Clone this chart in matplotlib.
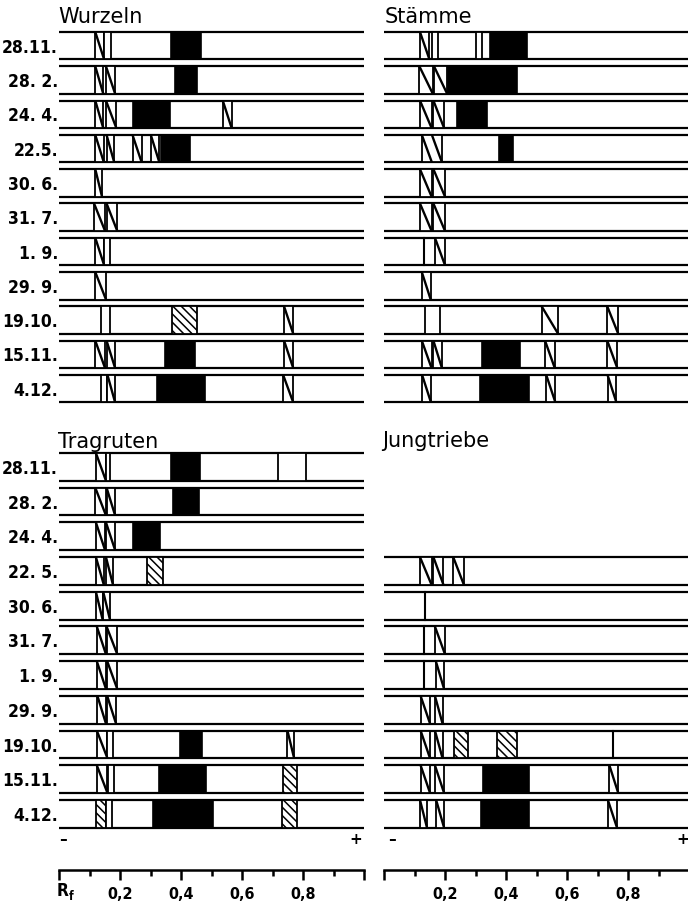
import matplotlib
matplotlib.use('Agg')
import matplotlib.pyplot as plt
from matplotlib.patches import Rectangle
from matplotlib import font_manager as fm
from matplotlib.ticker import FixedLocator, FixedFormatter

# ---------------- data ----------------
dates_top = ["28.11.", "28. 2.", "24. 4.", "22.5.", "30. 6.", "31. 7.",
             "1. 9.", "29. 9.", "19.10.", "15.11.", "4.12."]
dates_bottom = ["28.11.", "28. 2.", "24. 4.", "22. 5.", "30. 6.", "31. 7.",
                "1. 9.", "29. 9.", "19.10.", "15.11.", "4.12."]

titles = ["Wurzeln", "Stämme", "Tragruten", "Jungtriebe"]

# band = (Rf start, Rf end, kind)  kind: h = hatched, d = dense hatched,
# b = black, o = open, l = single line
wurzeln = [
    [(0.118, 0.147, 'h'), (0.147, 0.170, 'o'), (0.365, 0.465, 'b')],
    [(0.118, 0.144, 'h'), (0.153, 0.183, 'h'), (0.380, 0.450, 'b')],
    [(0.118, 0.144, 'h'), (0.153, 0.187, 'h'), (0.243, 0.363, 'b'), (0.536, 0.565, 'h')],
    [(0.118, 0.146, 'h'), (0.155, 0.180, 'h'), (0.240, 0.270, 'h'), (0.300, 0.328, 'h'),
     (0.333, 0.428, 'b')],
    [(0.118, 0.140, 'h')],
    [(0.114, 0.150, 'h'), (0.155, 0.190, 'h')],
    [(0.118, 0.147, 'h'), (0.147, 0.165, 'o')],
    [(0.118, 0.153, 'h')],
    [(0.136, 0.166, 'o'), (0.368, 0.450, 'd'), (0.737, 0.767, 'h')],
    [(0.118, 0.150, 'h'), (0.155, 0.183, 'h'), (0.347, 0.445, 'b'), (0.737, 0.767, 'h')],
    [(0.137, 0.158, 'o'), (0.158, 0.183, 'h'), (0.320, 0.478, 'b'), (0.734, 0.767, 'h')],
]

staemme = [
    [(0.118, 0.149, 'h'), (0.156, 0.178, 'o'), (0.302, 0.320, 'o'), (0.348, 0.468, 'b')],
    [(0.116, 0.160, 'h'), (0.164, 0.207, 'h'), (0.211, 0.435, 'b')],
    [(0.118, 0.156, 'h'), (0.162, 0.197, 'h'), (0.240, 0.337, 'b')],
    [(0.124, 0.190, 'h'), (0.378, 0.424, 'b')],
    [(0.118, 0.156, 'h'), (0.162, 0.200, 'h')],
    [(0.118, 0.156, 'h'), (0.162, 0.200, 'h')],
    [(0.132, 0.132, 'l'), (0.167, 0.200, 'h')],
    [(0.124, 0.153, 'h')],
    [(0.134, 0.183, 'o'), (0.517, 0.571, 'h'), (0.732, 0.768, 'h')],
    [(0.124, 0.156, 'h'), (0.162, 0.190, 'h'), (0.320, 0.446, 'b'), (0.528, 0.560, 'h'),
     (0.732, 0.765, 'h')],
    [(0.125, 0.154, 'h'), (0.316, 0.475, 'b'), (0.532, 0.562, 'h'), (0.733, 0.762, 'h')],
]

tragruten = [
    [(0.120, 0.153, 'h'), (0.153, 0.166, 'o'), (0.365, 0.461, 'b'), (0.718, 0.809, 'o')],
    [(0.118, 0.153, 'h'), (0.155, 0.183, 'h'), (0.372, 0.459, 'b')],
    [(0.120, 0.150, 'h'), (0.153, 0.183, 'h'), (0.243, 0.330, 'b')],
    [(0.120, 0.146, 'h'), (0.153, 0.176, 'h'), (0.289, 0.339, 'd')],
    [(0.120, 0.142, 'h'), (0.144, 0.166, 'h')],
    [(0.123, 0.153, 'h'), (0.155, 0.190, 'h')],
    [(0.123, 0.153, 'h'), (0.157, 0.190, 'h')],
    [(0.125, 0.153, 'h'), (0.157, 0.186, 'h')],
    [(0.123, 0.158, 'h'), (0.158, 0.177, 'o'), (0.396, 0.467, 'b'), (0.748, 0.770, 'h')],
    [(0.123, 0.158, 'h'), (0.161, 0.180, 'o'), (0.328, 0.481, 'b'), (0.735, 0.780, 'd')],
    [(0.120, 0.153, 'd'), (0.153, 0.172, 'o'), (0.306, 0.505, 'b'), (0.729, 0.778, 'd')],
]

jungtriebe = [
    None, None, None,
    [(0.118, 0.156, 'h'), (0.162, 0.195, 'h'), (0.227, 0.262, 'h')],
    [(0.134, 0.134, 'l')],
    [(0.131, 0.131, 'l'), (0.167, 0.200, 'h')],
    [(0.131, 0.131, 'l'), (0.170, 0.197, 'h')],
    [(0.120, 0.151, 'h'), (0.167, 0.192, 'h')],
    [(0.120, 0.151, 'h'), (0.167, 0.192, 'h'), (0.230, 0.276, 'd'), (0.369, 0.435, 'd'),
     (0.752, 0.752, 'l')],
    [(0.120, 0.151, 'h'), (0.167, 0.197, 'h'), (0.324, 0.477, 'b'), (0.739, 0.768, 'h')],
    [(0.118, 0.141, 'h'), (0.171, 0.197, 'h'), (0.318, 0.475, 'b'), (0.734, 0.764, 'h')],
]

major_ticks = [0.0, 0.2, 0.4, 0.6, 0.8, 1.0]
major_labels = ["", "0,2", "0,4", "0,6", "0,8", ""]
minor_ticks = [0.1, 0.3, 0.5, 0.7, 0.9]

# ---------------- fonts ----------------
_names = {f.name for f in fm.fontManager.ttflist}
_cond = any(f.name == 'DejaVu Sans' and str(f.stretch) == 'condensed'
            for f in fm.fontManager.ttflist)
if 'Liberation Sans Narrow' in _names:
    NFONT = dict(family='Liberation Sans Narrow')
    DATE_FS, TICK_FS = 15, 13.5
elif _cond:
    NFONT = dict(family='DejaVu Sans', stretch='condensed')
    DATE_FS, TICK_FS = 12.5, 11.5
else:
    NFONT = dict(family='DejaVu Sans')
    DATE_FS, TICK_FS = 11.5, 10.5
TFONT = dict(family='DejaVu Sans')

# ---------------- figure ----------------
W, H = 688, 905
fig = plt.figure(figsize=(W / 100, H / 100), dpi=100)
plt.rcParams['hatch.linewidth'] = 1.1


def fx(px):
    return px / W


def fy(py):
    return 1 - py / H


HALF = 0.4
SCALE_W = 305.0
LW_STRIP = 1.6


def make_panel(left_px, first_top, pitch, bands, dates):
    top = first_top - (0.5 - HALF) * pitch
    height = 11 * pitch
    ax = fig.add_axes([fx(left_px), fy(top + height), SCALE_W / W, height / H])
    ax.set_xlim(0, 1)
    ax.set_ylim(10.5, -0.5)
    ax.axis('off')
    for i, row in enumerate(bands):
        if row is None:
            continue
        for yy in (i - HALF, i + HALF):
            ax.plot([0, 1], [yy, yy], color='k', lw=LW_STRIP,
                    solid_capstyle='butt', zorder=1, clip_on=False)
        y0 = i - HALF
        h = 2 * HALF
        for x0, x1, kind in row:
            if kind == 'l':
                ax.plot([x0, x0], [y0, y0 + h], color='k', lw=1.5, zorder=3)
            elif kind == 'b':
                ax.add_patch(Rectangle((x0, y0), x1 - x0, h, fc='k', ec='k',
                                       lw=1.2, zorder=2))
            elif kind == 'o':
                ax.add_patch(Rectangle((x0, y0), x1 - x0, h, fc='white', ec='k',
                                       lw=1.3, zorder=2))
            elif kind == 'd':
                ax.add_patch(Rectangle((x0, y0), x1 - x0, h, fc='white', ec='k',
                                       lw=1.3, hatch='\\\\\\\\', zorder=2))
            else:
                ax.add_patch(Rectangle((x0, y0), x1 - x0, h, fc='white', ec='k',
                                       lw=1.3, zorder=2))
                wpx = (x1 - x0) * SCALE_W
                k = max(1, int(round(wpx / 11.0)))
                step = (x1 - x0) / k
                for j in range(k):
                    ax.plot([x0 + j * step, x0 + (j + 1) * step], [y0, y0 + h],
                            color='k', lw=1.7, zorder=3, solid_capstyle='butt')
        if dates is not None:
            ax.text(-0.004, i + 0.06, dates[i], ha='right', va='center',
                    fontsize=DATE_FS, fontweight='bold', **NFONT)
    return ax


LEFT_X, RIGHT_X = 59.3, 384.0
make_panel(LEFT_X, 32, 34.3, wurzeln, dates_top)
make_panel(RIGHT_X, 32, 34.3, staemme, None)
make_panel(LEFT_X, 453, 34.7, tragruten, dates_bottom)
make_panel(RIGHT_X, 453, 34.7, jungtriebe, None)

# titles
fig.text(fx(58), fy(23), titles[0], ha='left', va='baseline', fontsize=15, **TFONT)
fig.text(fx(385), fy(23), titles[1], ha='left', va='baseline', fontsize=15, **TFONT)
fig.text(fx(58), fy(448), titles[2], ha='left', va='baseline', fontsize=15, **TFONT)
fig.text(fx(382), fy(447), titles[3], ha='left', va='baseline', fontsize=15, **TFONT)

# - / + markers
for xp, s in ((63, '\u2013'), (356, '+'), (392, '\u2013'), (683, '+')):
    fig.text(fx(xp), fy(839), s, ha='center', va='center', fontsize=11,
             fontweight='bold', family='DejaVu Sans')

# Rf scales
for left_px in (LEFT_X, RIGHT_X):
    sax = fig.add_axes([fx(left_px), fy(870), SCALE_W / W, 0.0001])
    sax.set_xlim(0, 1)
    sax.patch.set_visible(False)
    for s in ('top', 'left', 'right'):
        sax.spines[s].set_visible(False)
    sax.spines['bottom'].set_linewidth(1.8)
    sax.set_yticks([])
    sax.xaxis.set_major_locator(FixedLocator(major_ticks))
    sax.xaxis.set_major_formatter(FixedFormatter(major_labels))
    sax.xaxis.set_minor_locator(FixedLocator(minor_ticks))
    sax.tick_params(which='major', length=7, width=1.8, direction='out', pad=5)
    sax.tick_params(which='minor', length=4, width=1.8, direction='out')
    for lab in sax.get_xticklabels():
        lab.set_fontsize(TICK_FS)
        lab.set_fontweight('bold')
        lab.set_family(NFONT['family'])
        if 'stretch' in NFONT:
            lab.set_stretch(NFONT['stretch'])

fig.text(fx(57), fy(896), 'R', ha='left', va='baseline', fontsize=TICK_FS + 1,
         fontweight='bold', **NFONT)
fig.text(fx(69), fy(900), 'f', ha='left', va='baseline', fontsize=TICK_FS - 3,
         fontweight='bold', **NFONT)

fig.savefig('out.png', dpi=100, facecolor='white')
